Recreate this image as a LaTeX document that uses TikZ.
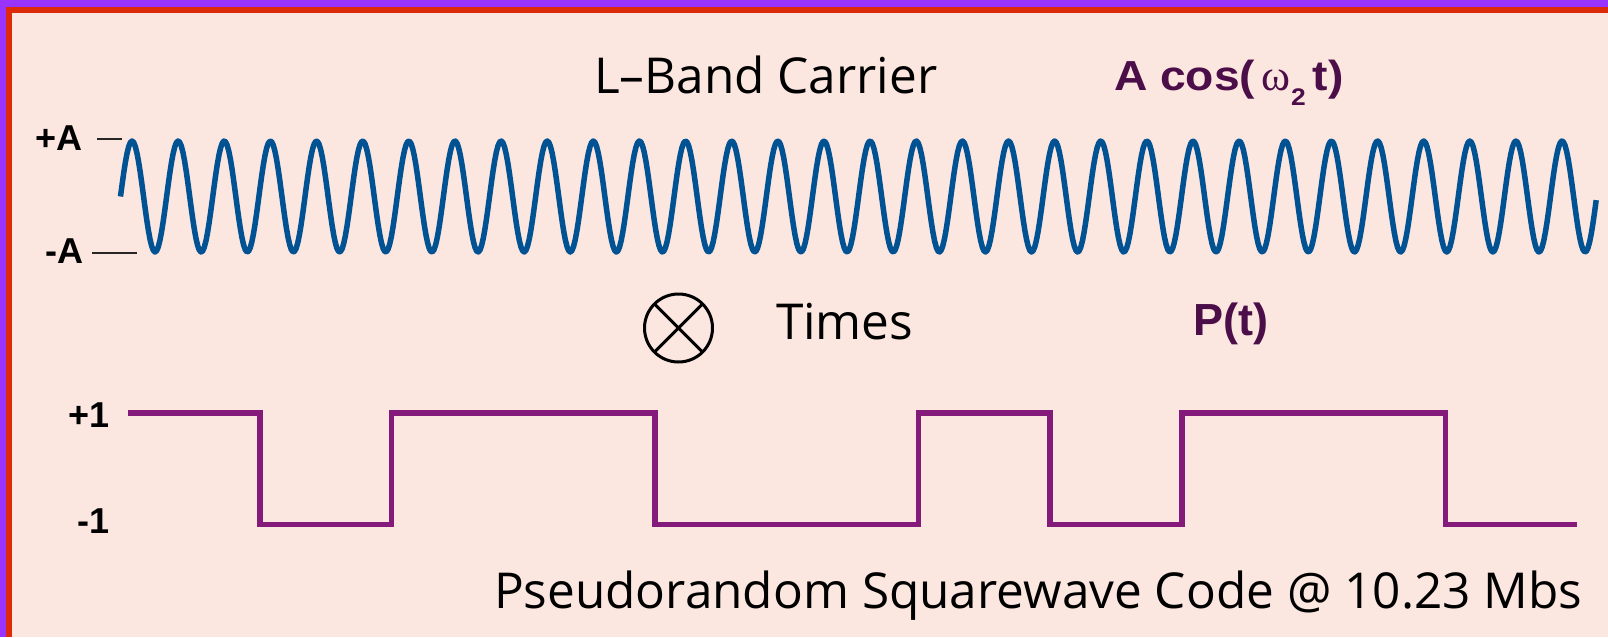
\documentclass[tikz,border=0pt]{standalone}
\usepackage{fontspec}
\usepackage{graphicx}
\newfontfamily\osans{Open Sans}
\newfontfamily\lsans{Liberation Sans}
\newfontfamily\lserif{Liberation Serif}
\definecolor{bgpink}{RGB}{251,230,224}
\definecolor{framepurple}{RGB}{153,51,255}
\definecolor{framered}{RGB}{221,42,10}
\definecolor{carrierblue}{RGB}{0,82,147}
\definecolor{codepurple}{RGB}{132,26,122}
\definecolor{labelpurple}{RGB}{75,14,72}
\tikzset{
  plain/.style={inner sep=0pt, outer sep=0pt, anchor=base west, font=\osans\fontsize{49.5}{58}\selectfont, text=black},
  axislbl/.style={inner sep=0pt, outer sep=0pt, anchor=base east, font=\lsans\bfseries\fontsize{36}{40}\selectfont, text=black},
  mathlbl/.style={inner sep=0pt, outer sep=0pt, anchor=base west, font=\lsans\bfseries, text=labelpurple},
  wave/.style={line width=5.5pt, draw=carrierblue, line join=round},
  codewave/.style={line width=5.5pt, draw=codepurple},
  tickline/.style={line width=2pt, draw=black!85},
  multsym/.style={circle, draw=black, line width=3pt, minimum size=68pt, inner sep=0pt, outer sep=0pt},
}
\begin{document}
\begin{tikzpicture}[x=1pt,y=-1pt]
\useasboundingbox (0,0) rectangle (1608,637);
% background and frame
\fill[bgpink] (0,0) rectangle (1608,637);
\fill[framepurple] (0,0) rectangle (1608,7);
\fill[framepurple] (0,0) rectangle (6,637);
\fill[framered] (6,7) rectangle (1608,12.5);
\fill[framered] (6,7) rectangle (11.5,637);

% carrier
\draw[wave] plot[domain=0:32, samples=900] ({120.5+46.13*\x}, {196.5-55.5*sin(360*\x)});

% code
\draw[codewave] (128.3,413) -| (260,524.5) -| (391.7,413) -| (655.1,524.5) -| (918.5,413)
  -| (1050.2,524.5) -| (1181.9,413) -| (1445.3,524.5) -- (1577,524.5);

% axis labels and ticks
\node[axislbl] (pA) at (82.5,150) {+A};
\node[axislbl] (mA) at (83.5,263) {-A};
\node[axislbl] (p1) at (110,427) {+1};
\node[axislbl] (m1) at (110,533) {-1};
\coordinate (pAt1) at (97,138.5);
\coordinate (pAt2) at (122,138.5);
\coordinate (mAt1) at (92,253);
\coordinate (mAt2) at (137,253);
\draw[tickline] (pAt1) -- (pAt2);
\draw[tickline] (mAt1) -- (mAt2);

% texts
\node[plain] (carrier) at (594,93) {L–Band Carrier};
\node[plain] (times) at (776,339) {Times};
\node[plain] (prn) at (494,608) {Pseudorandom Squarewave Code @ 10.23 Mbs};
\node[mathlbl] (acos) at (1114,90) {\scalebox{1.1}[1]{\fontsize{42}{46}\selectfont A cos(}\hspace{6pt}{\lserif\mdseries\fontsize{44}{46}\selectfont ω}\hspace{1pt}\raisebox{-15pt}{\scalebox{1.1}[1]{\fontsize{24}{26}\selectfont 2}}\hspace{7pt}\scalebox{1.1}[1]{\fontsize{42}{46}\selectfont t)}};
\node[mathlbl, font=\lsans\bfseries\fontsize{45}{50}\selectfont] (pt) at (1193,335) {P(t)};

% multiplication symbol
\node[multsym] (otimes) at (678.5,328) {};
\draw[line width=3pt] (otimes.north west) -- (otimes.south east);
\draw[line width=3pt] (otimes.north east) -- (otimes.south west);
\end{tikzpicture}
\end{document}
